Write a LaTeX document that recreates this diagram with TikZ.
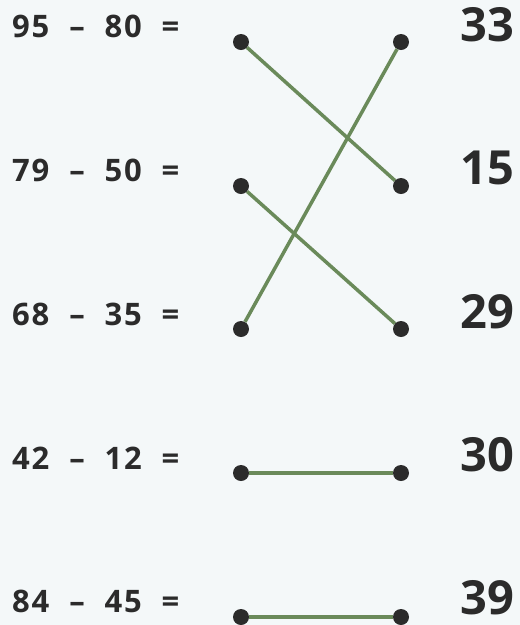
\documentclass[tikz,border=0pt]{standalone}
\usepackage{fontspec}
\setmainfont{Open Sans}
\newfontfamily\exprfont[LetterSpace=6,WordSpace=2]{Open Sans}
\usepackage{tikz}
\definecolor{bgcol}{HTML}{F4F8F9}
\definecolor{inkcol}{HTML}{2B2B2B}
\definecolor{linkcol}{HTML}{6A8A5A}

\begin{document}
\begin{tikzpicture}[
    x=1pt, y=-1pt,
    expr/.style={anchor=west, inner sep=0pt, text=inkcol, font=\exprfont\bfseries\fontsize{31}{31}\selectfont},
    answer/.style={anchor=west, inner sep=0pt, text=inkcol, font=\bfseries\fontsize{47}{47}\selectfont},
    dot/.style={circle, fill=inkcol, inner sep=0pt, minimum size=16pt},
    link/.style={linkcol, line width=3.5pt}
]
    \fill[bgcol] (0,0) rectangle (520,625);
    \useasboundingbox (0,0) rectangle (520,625);

    % left column
    \node[expr] (e1) at (12,26) {95 – 80 =};
    \node[expr] (e2) at (12,170) {79 – 50 =};
    \node[expr] (e3) at (12,314) {68 – 35 =};
    \node[expr] (e4) at (12,458) {42 – 12 =};
    \node[expr] (e5) at (12,601) {84 – 45 =};

    % right column
    \node[answer] (a1) at (460,25) {33};
    \node[answer] (a2) at (460,168) {15};
    \node[answer] (a3) at (460,312) {29};
    \node[answer] (a4) at (460,455) {30};
    \node[answer] (a5) at (460,598) {39};

    % dots
    \node[dot] (l1) at (241,42) {};
    \node[dot] (l2) at (241,186) {};
    \node[dot] (l3) at (241,329) {};
    \node[dot] (l4) at (241,473) {};
    \node[dot] (l5) at (241,617) {};
    \node[dot] (r1) at (401,42) {};
    \node[dot] (r2) at (401,186) {};
    \node[dot] (r3) at (401,329) {};
    \node[dot] (r4) at (401,473) {};
    \node[dot] (r5) at (401,617) {};

    % matches
    \draw[link] (l1) -- (r2);
    \draw[link] (l2) -- (r3);
    \draw[link] (l3) -- (r1);
    \draw[link] (l4) -- (r4);
    \draw[link] (l5) -- (r5);
\end{tikzpicture}
\end{document}
